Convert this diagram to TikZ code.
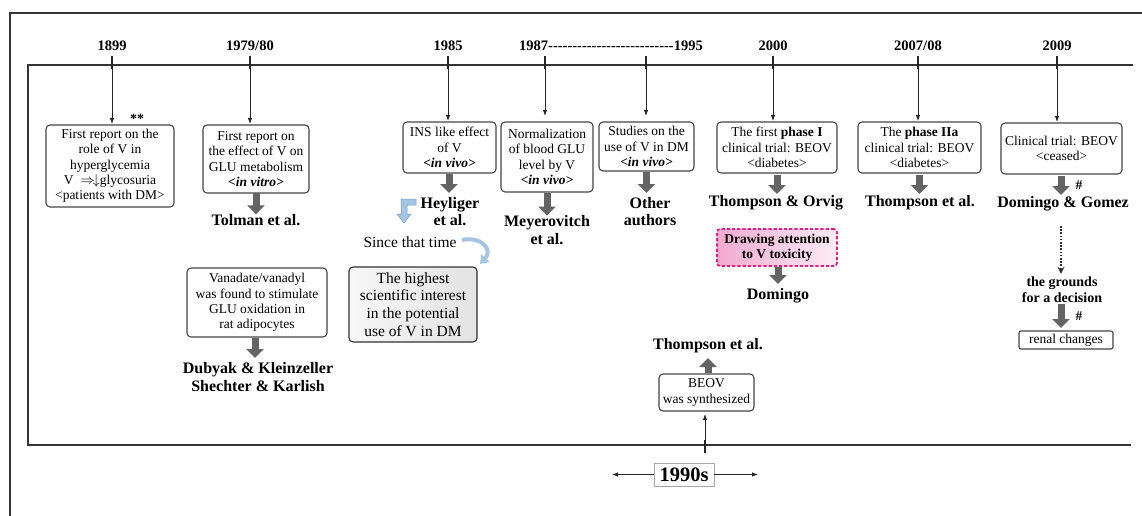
\documentclass[tikz,border=0pt]{standalone}
\usepackage{fontspec}
\setmainfont{Liberation Serif}
\usetikzlibrary{arrows.meta}
\definecolor{boxline}{RGB}{70,70,70}
\definecolor{fatgray}{RGB}{100,100,100}
\definecolor{mag}{RGB}{228,30,130}
\definecolor{pinkA}{RGB}{242,170,208}
\definecolor{pinkB}{RGB}{253,236,245}
\definecolor{lblue}{RGB}{165,198,226}
\definecolor{lblueD}{RGB}{115,155,195}
\newcommand\boxfont{\fontsize{13.5}{15.3}\selectfont}
\newcommand\namefont{\fontsize{16}{17.5}\selectfont\bfseries}
\newcommand\yearfont{\fontsize{14.5}{16}\selectfont\bfseries}
\newcommand\hyph{-\kern0pt}
\tikzset{
 every node/.style={inner sep=0pt, outer sep=0pt},
 evtbox/.style={draw=boxline, line width=1.1pt, rounded corners=4pt, align=center, font=\boxfont, fill=white},
 authname/.style={align=center, font=\namefont},
 yearlab/.style={font=\yearfont},
 tickline/.style={line width=1.9pt, draw=black!85},
 thinarrow/.style={line width=0.8pt, draw=black!85, -{Latex[length=6pt,width=4.5pt]}},
 fatarrow/.style={line width=7pt, draw=fatgray, -{Triangle[length=9pt,width=17pt]}},
 frameline/.style={line width=2pt, draw=black!80},
 dotarrow/.style={line width=1.6pt, draw=black!80, dash pattern=on 1.6pt off 1.6pt, -{Stealth[length=7pt,width=7pt]}},
}
\begin{document}
\begin{tikzpicture}[x=1pt,y=-1pt]
\useasboundingbox (0,0) rectangle (1142,516);
\fill[white] (0,0) rectangle (1142,516);
% frames
\draw[frameline] (10,516) -- (10,13) -- (1142,13);
\draw[frameline] (1133,65) -- (28,65) -- (28,445) -- (1131,445);

% year labels
\node[yearlab] (y99) at (112,46) {1899};
\node[yearlab] (y79) at (250,46) {1979/80};
\node[yearlab] (y85) at (448,46) {1985};
\node[yearlab] (y87) at (611,46) {1987\hyph\hyph\hyph\hyph\hyph\hyph\hyph\hyph\hyph\hyph\hyph\hyph\hyph\hyph\hyph\hyph\hyph\hyph\hyph\hyph\hyph\hyph\hyph\hyph\hyph\hyph 1995};
\node[yearlab] (y00) at (773,46) {2000};
\node[yearlab] (y07) at (918,46) {2007/08};
\node[yearlab] (y09) at (1057,46) {2009};
\coordinate (t87) at (545,56);
\coordinate (t95) at (646,56);

% event boxes
\node[evtbox, minimum width=128pt, minimum height=82pt] (b1) at (110,166)
 {First report on the\\ role of V in\\ hyperglycemia\\ V \;$\Rightarrow\!\downarrow$glycosuria\\ <patients with DM>};
\node[evtbox, minimum width=106pt, minimum height=68pt] (b2) at (256,159)
 {First report on\\ the effect of V on\\ GLU metabolism\\ \textbf{\textit{<in vitro>}}};
\node[evtbox, minimum width=93pt, minimum height=51pt] (b3) at (449.5,147.5)
 {INS like effect\\ of V\\ \textbf{\textit{<in vivo>}}};
\node[evtbox, minimum width=92pt, minimum height=70pt] (b4) at (547,157)
 {Normalization\\ of blood GLU\\ level by V\\ \textbf{\textit{<in vivo>}}};
\node[evtbox, minimum width=95pt, minimum height=49pt] (b5) at (646.5,146.5)
 {Studies on the\\ use of V in DM\\ \textbf{\textit{<in vivo>}}};
\node[evtbox, minimum width=120pt, minimum height=51pt] (b6) at (777,147.5)
 {The first \textbf{phase I}\\ clinical trial: BEOV\\ <diabetes>};
\node[evtbox, minimum width=123pt, minimum height=51pt] (b7) at (919.5,147.5)
 {The \textbf{phase IIa}\\ clinical trial: BEOV\\ <diabetes>};
\node[evtbox, minimum width=121pt, minimum height=51pt] (b8) at (1061.5,148.5)
 {Clinical trial: BEOV\\ <ceased>};
\node[font=\fontsize{14}{14}\selectfont\bfseries] (st) at (137,119) {**};

% year arrows
\foreach \y/\b in {y99/b1,y79/b2,y85/b3,y00/b6,y07/b7,y09/b8}{
  \draw[thinarrow, shorten >=6pt] ([yshift=-5pt]\y.south) -- ([yshift=-5pt]\y.south |- \b.north);
  \draw[tickline] ([yshift=-5pt]\y.south) -- ++(0,13);
}
\draw[thinarrow, shorten >=6pt] (t87) -- (t87 |- b4.north);
\draw[tickline] (t87) -- ++(0,13);
\draw[thinarrow, shorten >=6pt] (t95) -- (t95 |- b5.north);
\draw[tickline] (t95) -- ++(0,13);

% author names
\node[authname] (n2) at (256,220) {Tolman et al.};
\node[authname] (n3) at (450,211.5) {Heyliger\\ et al.};
\node[authname] (n4) at (547,230) {Meyerovitch\\ et al.};
\node[authname] (n5) at (650,211.5) {Other\\ authors};
\node[authname] (n6) at (776,203) {Thompson \& Orvig};
\node[authname] (n7) at (920,203) {Thompson et al.};
\node[authname] (n8) at (1063,204) {Domingo \& Gomez};
\draw[fatarrow] (b2.south) -- (b2.south |- n2.north);
\draw[fatarrow, shorten <=1pt] (b3.south -| 449,0) -- (449,193);
\draw[fatarrow, shorten <=1pt] (b4.south) -- (b4.south |- n4.north);
\draw[fatarrow, shorten <=1pt] (b5.south) -- (646.5,193);
\draw[fatarrow, shorten <=2pt] (b6.south) -- (777,194);
\draw[fatarrow, shorten <=2pt] (b7.south) -- (919.5,194);
\draw[fatarrow, shorten <=2pt] (b8.south -| 1061,0) -- (1061,195);
\node[font=\fontsize{13.5}{14}\selectfont\bfseries] (h1) at (1079,185) {\#};

% vanadate
\node[evtbox, minimum width=140pt, minimum height=69pt] (bv) at (257,302.5)
 {Vanadate/vanadyl\\ was found to stimulate\\ GLU oxidation in\\ rat adipocytes};
\node[authname] (nv) at (258,377) {Dubyak \& Kleinzeller\\ Shechter \& Karlish};
\draw[fatarrow, shorten <=1pt] (bv.south -| 255,0) -- (255,358);

% since that time
\node[font=\fontsize{15.5}{16}\selectfont] (since) at (410,242) {Since that time};
\node[evtbox, fill=none, left color=gray!6, right color=gray!22, draw=black!80, minimum width=128pt, minimum height=75pt,
  font=\fontsize{15.5}{17.6}\selectfont] (hi) at (413,304.5)
 {The highest\\ scientific interest\\ in the potential\\ use of V in DM};
\filldraw[fill=lblue, draw=lblueD, line width=0.5pt]
 (416,199) -- (401,199) -- (401,214) -- (397,214) -- (404,223) -- (411,214) -- (407,214) -- (407,205) -- (416,205) -- cycle;
\draw[line width=4pt, lblue, -{Triangle[length=8pt,width=11pt]}] (462,240) .. controls (482,236) and (493,250) .. (480,264);

% toxicity
\node[evtbox, draw=mag, line width=1.7pt, dash pattern=on 3.2pt off 2pt, fill=none, left color=pinkA, right color=pinkB,
  rounded corners=3pt, minimum width=120pt, minimum height=37pt, font=\fontsize{13.5}{15.3}\selectfont\bfseries] (pk) at (777,247.5)
 {Drawing attention\\ to V toxicity};
\node[authname] (nd) at (778,296) {Domingo};
\draw[fatarrow, shorten <=1pt] (pk.south -| 778,0) -- (778,284);

% grounds
\coordinate (dtop) at (1061,226);
\node[align=center, font=\fontsize{14}{15.5}\selectfont\bfseries] (gr) at (1062,289.5) {the grounds\\ for a decision};
\draw[dotarrow, shorten >=3pt] (dtop) -- (dtop |- gr.north);
\node[evtbox, rounded corners=2pt, minimum width=94pt, minimum height=18pt] (rc) at (1066,340) {renal changes};
\draw[fatarrow, shorten <=2pt] (gr.south -| 1061,0) -- (1061,328);
\node[font=\fontsize{13.5}{14}\selectfont\bfseries] (h2) at (1079,316) {\#};

% 1990s
\node[evtbox, minimum width=95pt, minimum height=37pt] (beov) at (706.5,392.5) {BEOV\\ was synthesized};
\node[authname] (nt) at (708,346) {Thompson et al.};
\draw[fatarrow, shorten <=1pt] (beov.north -| 708,0) -- (708,358);
\coordinate (t90) at (705,453);
\draw[thinarrow, shorten >=3pt] (t90) -- (t90 |- beov.south);
\draw[tickline] (t90) -- ++(0,-13);
\node[draw=black!35, line width=0.8pt, minimum width=60pt, minimum height=23pt, font=\fontsize{20.5}{21}\selectfont\bfseries] (nin) at (684,474.5) {1990s};
\coordinate (la) at (612,474.5);
\coordinate (ra) at (758,474.5);
\draw[thinarrow] (nin.west) -- (la);
\draw[thinarrow] (nin.east) -- (ra);
\end{tikzpicture}
\end{document}
